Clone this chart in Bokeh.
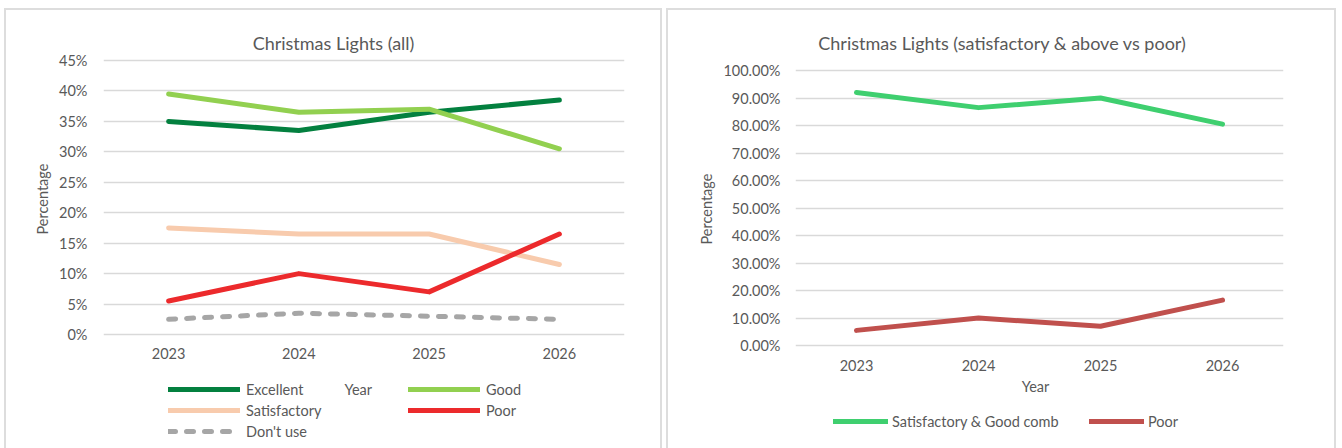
from bokeh.plotting import figure
from bokeh.models import (Legend, LegendItem, Label, FactorRange, Range1d, Title,
                          NumeralTickFormatter, FixedTicker)
from bokeh.layouts import row
from bokeh.embed import file_html
from bokeh.resources import INLINE

# ---------------- data ----------------
years = ["2023", "2024", "2025", "2026"]

# left chart (all ratings)
excellent = [0.35, 0.335, 0.365, 0.385]
good = [0.395, 0.365, 0.37, 0.305]
satisfactory = [0.175, 0.165, 0.165, 0.115]
poor = [0.055, 0.10, 0.07, 0.165]
dont_use = [0.025, 0.035, 0.03, 0.025]

# right chart (satisfactory & above vs poor)
sat_good_comb = [0.92, 0.865, 0.90, 0.805]
poor_right = [0.055, 0.10, 0.07, 0.165]

title_left = "Christmas Lights (all)"
title_right = "Christmas Lights (satisfactory & above vs poor)"
left_ticks = [i * 0.05 for i in range(10)]     # 0% .. 45%
right_ticks = [i * 0.1 for i in range(11)]     # 0.00% .. 100.00%

# ---------------- style ----------------
FONT = "Lato"
TXT = "#595959"
GRID = "#D9D9D9"
PANEL_STYLE = {"box-shadow": "inset 2px 2px 0 0 #DDDDDD, inset -2px 0 0 0 #DDDDDD"}
LW = 5
FS = "14.5px"
TFS = "18px"


def style_fig(p, fmt, ticks):
    p.outline_line_color = None
    p.border_fill_color = None
    p.background_fill_color = None
    p.xgrid.visible = False
    tk = FixedTicker(ticks=ticks)
    p.yaxis.ticker = tk
    p.ygrid.ticker = tk
    p.ygrid.grid_line_color = GRID
    p.ygrid.grid_line_width = 1.5
    p.yaxis.formatter = NumeralTickFormatter(format=fmt)
    p.xaxis.fixed_location = 0
    for ax in (p.xaxis[0], p.yaxis[0]):
        ax.axis_line_color = None
        ax.major_tick_line_color = None
        ax.minor_tick_line_color = None
        ax.major_tick_out = 0
        ax.major_tick_in = 0
        ax.major_label_text_font = FONT
        ax.major_label_text_font_size = FS
        ax.major_label_text_color = TXT


def add_legend(p, renderer, label, x, y, gw, standoff):
    lg = Legend(items=[LegendItem(label=label, renderers=[renderer])],
                location=(x, y), orientation="horizontal",
                glyph_width=gw, glyph_height=20, label_height=20,
                label_standoff=standoff, padding=0, margin=0, spacing=0,
                border_line_color=None, background_fill_alpha=0,
                label_text_font=FONT, label_text_font_size=FS,
                label_text_color=TXT, label_text_baseline="middle")
    p.add_layout(lg)


def add_text(p, x, y, text, size, align="center"):
    p.add_layout(Label(x=x, y=y, text=text, text_align=align,
                       text_baseline="middle", text_font=FONT,
                       text_font_size=size, text_color=TXT))


def add_ylabel(p, offset, standoff):
    p.add_layout(Title(text="Percentage", align="left", offset=offset,
                       text_font=FONT, text_font_size=FS,
                       text_font_style="normal", text_color=TXT,
                       standoff=standoff),
                 "left")


# ---------------- left chart ----------------
# canvas 4..662 x 8..448 ; frame x 103..624 ; y: 0% at 334, 45% at 60
px_per_unit_l = (334 - 60) / 0.45
p1 = figure(x_range=FactorRange(*years),
            y_range=Range1d(-(448 - 334) / px_per_unit_l, 0.45 + (60 - 8) / px_per_unit_l),
            width=658, height=440, output_backend="svg", toolbar_location=None,
            title=None, margin=(8, 0, 0, 4),
            min_border_left=99, min_border_right=38, min_border_top=0,
            min_border_bottom=0, styles=PANEL_STYLE)
style_fig(p1, "0%", left_ticks)
p1.yaxis.major_label_standoff = 16
p1.xaxis.major_label_standoff = 13

r_exc = p1.line(years, excellent, line_color="#03803F", line_width=LW,
                line_cap="round", line_join="round")
r_good = p1.line(years, good, line_color="#92D050", line_width=LW,
                 line_cap="round", line_join="round")
r_sat = p1.line(years, satisfactory, line_color="#F8CBAD", line_width=LW,
                line_cap="round", line_join="round")
r_poor = p1.line(years, poor, line_color="#EC2A2C", line_width=LW,
                 line_cap="round", line_join="round")
r_du = p1.line(years, dont_use, line_color="#A6A6A6", line_width=LW,
               line_cap="round", line_join="round", line_dash="7 11")

add_legend(p1, r_exc, "Excellent", 65, 49, 72, 6)
add_legend(p1, r_good, "Good", 305, 49, 72, 6)
add_legend(p1, r_sat, "Satisfactory", 65, 28, 72, 6)
add_legend(p1, r_poor, "Poor", 305, 28, 72, 6)
add_legend(p1, r_du, "Don't use", 65, 7, 72, 6)

add_text(p1, (333 - 103) / 130.25, 0.45 + 18 / px_per_unit_l, title_left, TFS)
add_text(p1, (344 - 103) / 130.25, -(389 - 334) / px_per_unit_l, "Year", FS, align="left")
add_ylabel(p1, 214, 12)

# ---------------- right chart ----------------
# canvas 666..1336 x 8..448 ; frame x 795..1283 ; y: 0% at 345, 100% at 70
px_per_unit_r = (345 - 70) / 1.0
p2 = figure(x_range=FactorRange(*years),
            y_range=Range1d(-(448 - 345) / px_per_unit_r, 1.0 + (70 - 8) / px_per_unit_r),
            width=670, height=440, output_backend="svg", toolbar_location=None,
            title=None, margin=(8, 0, 0, 4),
            min_border_left=129, min_border_right=53, min_border_top=0,
            min_border_bottom=0, styles=PANEL_STYLE)
style_fig(p2, "0.00%", right_ticks)
p2.yaxis.major_label_standoff = 15
p2.xaxis.major_label_standoff = 14

r_comb = p2.line(years, sat_good_comb, line_color="#3FCF6F", line_width=LW,
                 line_cap="round", line_join="round")
r_poor2 = p2.line(years, poor_right, line_color="#C0504D", line_width=LW,
                  line_cap="round", line_join="round")

add_legend(p2, r_comb, "Satisfactory & Good comb", 38, 17, 55, 4)
add_legend(p2, r_poor2, "Poor", 294, 17, 55, 4)

add_text(p2, (1002 - 795) / 122, 1.0 + 28 / px_per_unit_r, title_right, TFS)
add_text(p2, (1035 - 795) / 122, -(386 - 345) / px_per_unit_r, "Year", FS)
add_ylabel(p2, 204, 12)

layout = row(p1, p2)
open("out.html", "w").write(file_html(layout, INLINE))
